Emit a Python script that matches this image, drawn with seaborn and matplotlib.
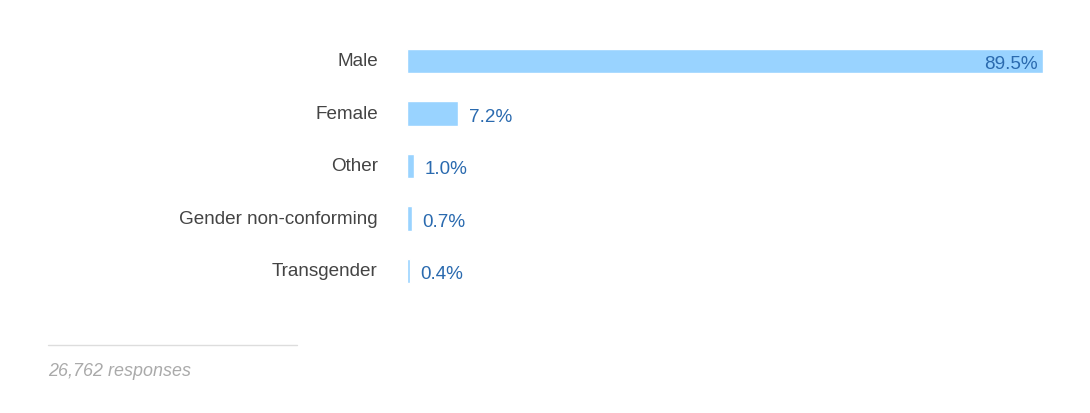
import pandas as pd
import matplotlib
matplotlib.use("Agg")
import matplotlib.pyplot as plt
import matplotlib.transforms as mtransforms
from matplotlib.lines import Line2D
import seaborn as sns

# Data
genders = ["Male", "Female", "Other", "Gender non-conforming", "Transgender"]
shares = [89.5, 7.2, 1.0, 0.7, 0.4]
responses = "26,762 responses"

df = pd.DataFrame({"gender": genders, "share": shares})

sns.set_theme(style="white")
plt.rcParams["font.family"] = ["Liberation Sans", "DejaVu Sans"]

fig = plt.figure(figsize=(10.9, 4.14), dpi=100)
ax = fig.add_axes([407 / 1090, 1 - 298.25 / 414, 636 / 1090, 262.5 / 414])

sns.barplot(data=df, x="share", y="gender", color="#99d3ff", width=0.46,
            saturation=1, ax=ax)

ax.set_xlim(0, max(shares))
ax.set_ylim(len(genders) - 0.5, -0.5)
ax.set_xlabel("")
ax.set_ylabel("")
ax.set_xticks([])
ax.tick_params(axis="y", length=0, pad=21, labelsize=13.6, labelcolor="#444444")
# nudge category labels up a touch, like the original
shift = mtransforms.ScaledTranslation(0, 2 / 100, fig.dpi_scale_trans)
for lbl in ax.get_yticklabels():
    lbl.set_transform(lbl.get_transform() + shift)
sns.despine(ax=ax, left=True, bottom=True)

# value labels
for i, v in enumerate(shares):
    if v > 50:
        ax.annotate(f"{v}%", (v, i), xytext=(-4, -2), textcoords="offset points",
                    ha="right", va="center", fontsize=13.6, color="#2a6aaf")
    else:
        ax.annotate(f"{v}%", (v, i), xytext=(7.5, -2), textcoords="offset points",
                    ha="left", va="center", fontsize=13.6, color="#2a6aaf")

# footer
fig.add_artist(Line2D([48 / 1090, 297 / 1090], [1 - 346 / 414, 1 - 346 / 414],
                      color="#dddddd", lw=1))
fig.text(48 / 1090, 1 - 372 / 414, responses, fontsize=12.9, style="italic",
         color="#aaaaaa", ha="left", va="center")

fig.savefig("out.png", dpi=100, facecolor="white")
